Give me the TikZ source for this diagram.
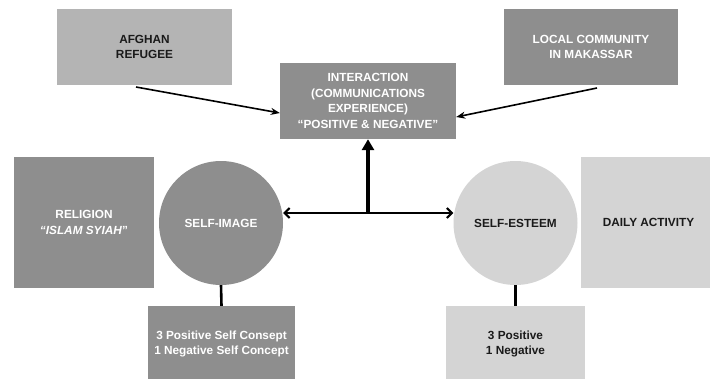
\documentclass[tikz,border=0pt]{standalone}
\usepackage{fontspec}
\setmainfont{Liberation Sans}
\usetikzlibrary{arrows.meta}
\definecolor{dg}{HTML}{8E8E8E}
\definecolor{mg}{HTML}{B4B4B4}
\definecolor{lg}{HTML}{D4D4D4}
\definecolor{tx}{HTML}{1A1A1A}
\begin{document}
\begin{tikzpicture}[x=1pt,y=-1pt,
  box/.style={draw=none, inner sep=0pt, align=center, font=\fontsize{11.8}{15.5}\selectfont\bfseries},
  darkbox/.style={box, fill=dg, text=white},
  lightbox/.style={box, fill=lg, text=tx},
  circ/.style={circle, draw=none, minimum size=124pt, inner sep=0pt, align=center, font=\fontsize{11.8}{15.5}\selectfont\bfseries},
  conn/.style={line width=2.6pt, draw=black},
  arr/.style={line width=2pt, -{Straight Barb[length=5pt,width=10pt,line width=2pt]}},
  thin/.style={line width=1.6pt, -{Stealth[length=9pt,width=7pt]}}
]
\useasboundingbox (0,0) rectangle (710,378);
\fill[white] (0,0) rectangle (710,378);
% boxes
\node[box, fill=mg, text=tx, minimum width=175pt, minimum height=76pt] (afg) at (144.5,47) {AFGHAN\\REFUGEE};
\node[darkbox, minimum width=176pt, minimum height=76pt] (inter) at (368,101) {INTERACTION\\(COMMUNICATIONS\\EXPERIENCE)\\“POSITIVE \& NEGATIVE"};
\node[darkbox, minimum width=174pt, minimum height=76pt] (local) at (591,47) {LOCAL COMMUNITY\\IN MAKASSAR};
\node[darkbox, minimum width=140pt, minimum height=131pt] (rel) at (84,222.5) {RELIGION\\\textit{“ISLAM SYIAH}”};
\node[lightbox, minimum width=135pt, minimum height=131pt] (daily) at (648.5,222.5) {DAILY ACTIVITY};
\node[circ, fill=dg, text=white] (simg) at (221,223) {SELF-IMAGE};
\node[circ, fill=lg, text=tx] (sest) at (515.5,223) {SELF-ESTEEM};
\node[darkbox, minimum width=147pt, minimum height=76pt] (posl) at (221.5,344) {3 Positive Self Consept\\1 Negative Self Concept};
\node[lightbox, minimum width=139pt, minimum height=76pt] (posr) at (515.5,344) {3 Positive\\1 Negative};
% connectors
\coordinate (jn) at (368,213);
\draw[conn] (simg.south) -- (posl.north);
\draw[conn] (sest.south) -- (posr.north);
\draw[arr] (jn) -- (simg.east |- jn);
\draw[arr] (jn) -- (sest.west |- jn);
\draw[line width=3.2pt, -{Triangle[length=11pt,width=12pt]}] ([yshift=1.5pt]jn) -- (inter.south);
\draw[thin] (136,87) -- (inter.west |- 0,113);
\draw[thin] (597,88) -- (inter.east |- 0,117);
\end{tikzpicture}
\end{document}
